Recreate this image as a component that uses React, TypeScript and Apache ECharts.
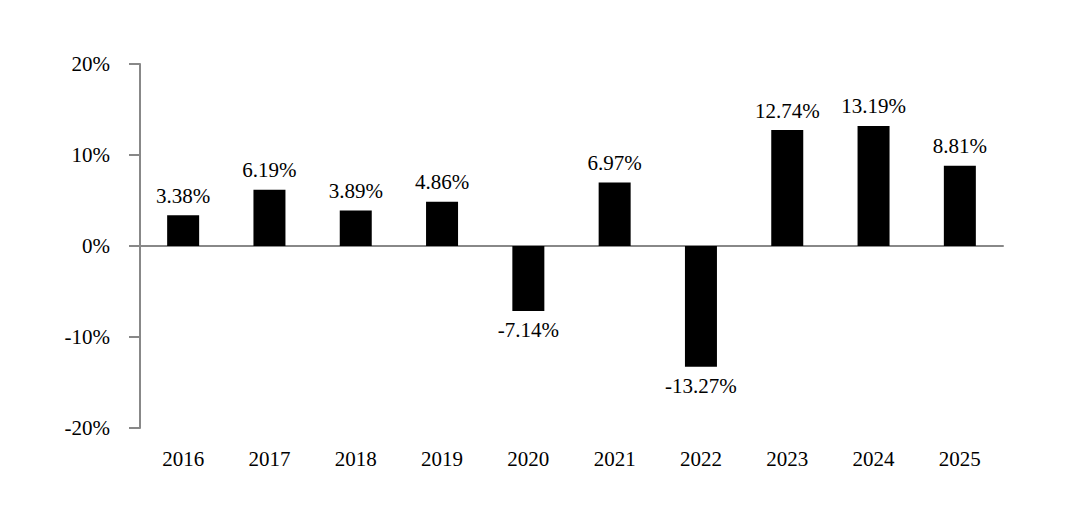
import React, { useEffect, useRef } from "react";
import * as echarts from "echarts";

const years = ["2016", "2017", "2018", "2019", "2020", "2021", "2022", "2023", "2024", "2025"];
const returns = [3.38, 6.19, 3.89, 4.86, -7.14, 6.97, -13.27, 12.74, 13.19, 8.81];

const FONT = "'Liberation Serif', 'Times New Roman', serif";

export default function App() {
  const ref = useRef<HTMLDivElement>(null);
  useEffect(() => {
    document.body.style.margin = "0";
    const chart = echarts.init(ref.current!, null, { renderer: "svg" });
    chart.setOption({
      animation: false,
      backgroundColor: "#ffffff",
      grid: { left: 140, right: 63, top: 64, bottom: 104, containLabel: false },
      xAxis: [
        {
          type: "category",
          data: years,
          position: "bottom",
          axisLine: { show: false, onZero: false },
          axisTick: { show: false },
          axisLabel: { color: "#000", fontFamily: FONT, fontSize: 21, margin: 20 },
        },
        {
          type: "category",
          data: years,
          axisLine: { show: true, onZero: true, lineStyle: { color: "#888", width: 2 } },
          axisTick: { show: false },
          axisLabel: { show: false },
        },
      ],
      yAxis: {
        type: "value",
        min: -20,
        max: 20,
        interval: 10,
        axisLine: { show: true, lineStyle: { color: "#888", width: 2 } },
        axisTick: { show: true, length: 11, lineStyle: { color: "#888", width: 2 } },
        splitLine: { show: false },
        axisLabel: {
          color: "#000",
          fontFamily: FONT,
          fontSize: 21,
          margin: 30,
          formatter: "{value}%",
        },
      },
      series: [
        {
          type: "bar",
          xAxisIndex: 0,
          data: returns.map((v) => ({
            value: v,
            label: { position: v >= 0 ? "top" : "bottom" },
          })),
          barWidth: 32,
          itemStyle: { color: "#000" },
          label: {
            show: true,
            distance: 9,
            color: "#000",
            fontFamily: FONT,
            fontSize: 21,
            formatter: (p: any) => p.value.toFixed(2) + "%",
          },
        },
      ],
    });
    return () => chart.dispose();
  }, []);
  return <div ref={ref} style={{ width: 1066, height: 532 }} />;
}
